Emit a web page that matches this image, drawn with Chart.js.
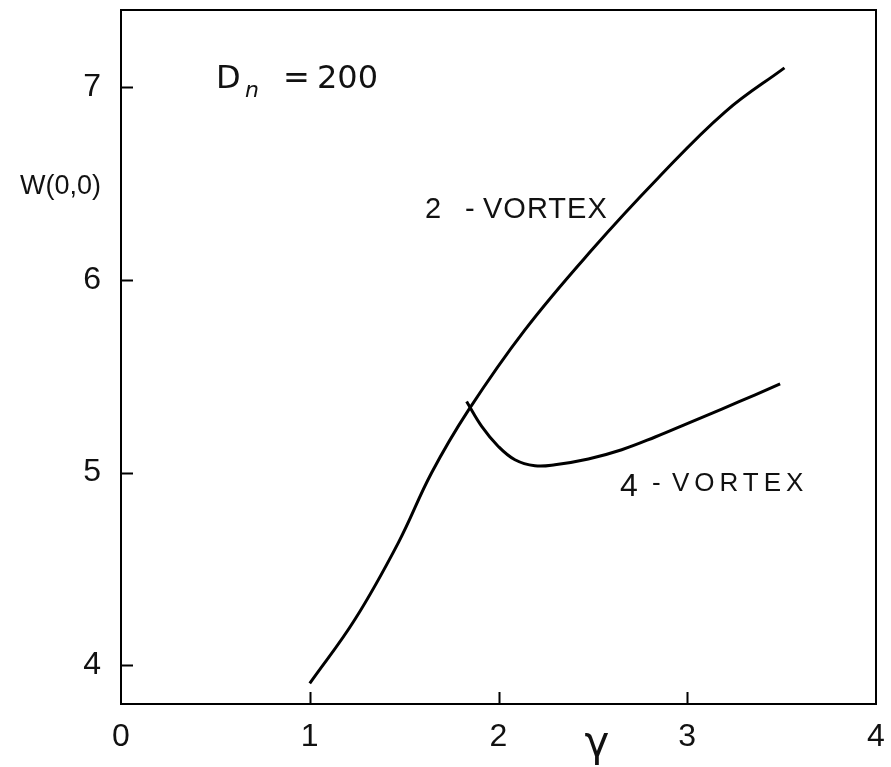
<!DOCTYPE html>
<html>
<head>
<meta charset="utf-8">
<script src="https://cdn.jsdelivr.net/npm/chart.js@4"></script>
<style>
html, body { margin: 0; padding: 0; background: #fff; }
</style>
</head>
<body>
<canvas id="chart" width="891" height="767"></canvas>
<script>
// Data (Dn = 200)
var twoVortexGamma = [1.00, 1.239, 1.469, 1.645, 1.840, 2.140, 2.494, 2.847, 3.201, 3.515];
var twoVortexW     = [3.907, 4.238, 4.636, 4.998, 5.323, 5.741, 6.155, 6.530, 6.872, 7.100];

var fourVortexGamma = [1.831, 1.911, 1.999, 2.087, 2.193, 2.299, 2.476, 2.653, 2.830, 3.006, 3.183, 3.360, 3.492];
var fourVortexW     = [5.369, 5.240, 5.136, 5.067, 5.036, 5.041, 5.071, 5.119, 5.185, 5.257, 5.330, 5.404, 5.461];

var xTicks = [0, 1, 2, 3, 4];
var yTicks = [4, 5, 6, 7];

function toPoints(xs, ys) {
    return xs.map(function(x, i) { return { x: x, y: ys[i] }; });
}

// Frame, inward tick marks and the hand-written labels
var annotations = {
    id: 'annotations',
    afterDraw: function(chart) {
        var ctx = chart.ctx;
        var a = chart.chartArea;
        var xs = chart.scales.x, ys = chart.scales.y;
        ctx.save();
        ctx.strokeStyle = '#000';
        ctx.lineWidth = 2;
        ctx.strokeRect(a.left, a.top, a.right - a.left, a.bottom - a.top);

        ctx.beginPath();
        yTicks.forEach(function(v) {
            var py = Math.round(ys.getPixelForValue(v)) + 0.5;
            ctx.moveTo(a.left, py);
            ctx.lineTo(a.left + 12, py);
        });
        xTicks.slice(1, -1).forEach(function(v) {
            var px = Math.round(xs.getPixelForValue(v)) + 0.5;
            ctx.moveTo(px, a.bottom);
            ctx.lineTo(px, a.bottom - 12);
        });
        ctx.stroke();

        ctx.fillStyle = '#111';
        ctx.textBaseline = 'alphabetic';

        // y axis title, horizontal
        ctx.font = '27px "Liberation Sans"';
        ctx.textAlign = 'right';
        ctx.fillText('W(0,0)', 101, 194);

        // x axis title
        ctx.textAlign = 'center';
        ctx.font = '42px "DejaVu Sans"';
        ctx.fillText('\u03B3', 597, 756);

        // D_n = 200
        ctx.textAlign = 'left';
        ctx.font = '32px "DejaVu Sans"';
        ctx.fillText('D', 216, 88);
        ctx.font = 'italic 22px "DejaVu Sans"';
        ctx.fillText('n', 245, 97);
        ctx.font = '32px "DejaVu Sans"';
        ctx.fillText('=', 283, 88);
        ctx.fillText('200', 317, 88);

        // curve labels
        ctx.font = '29px "Liberation Sans"';
        ctx.fillText('2', 425, 218);
        ctx.fillText('-', 465, 218);
        ctx.letterSpacing = '1px';
        ctx.fillText('VORTEX', 483, 218);
        ctx.letterSpacing = '0px';
        ctx.font = '32px "Liberation Sans"';
        ctx.fillText('4', 620, 496);
        ctx.font = '26px "Liberation Sans"';
        ctx.fillText('-', 652, 491);
        ctx.letterSpacing = '5px';
        ctx.fillText('VORTEX', 672, 491);
        ctx.restore();
    }
};

var ctx = document.getElementById('chart').getContext('2d');
new Chart(ctx, {
    type: 'scatter',
    data: {
        datasets: [{
            label: '2-VORTEX',
            data: toPoints(twoVortexGamma, twoVortexW),
            showLine: true,
            borderColor: '#000',
            borderWidth: 3,
            pointRadius: 0,
            tension: 0.4
        }, {
            label: '4-VORTEX',
            data: toPoints(fourVortexGamma, fourVortexW),
            showLine: true,
            borderColor: '#000',
            borderWidth: 3,
            pointRadius: 0,
            tension: 0.4
        }]
    },
    options: {
        responsive: false,
        animation: false,
        layout: { padding: { top: 10, right: 15, left: 0, bottom: 0 } },
        plugins: {
            legend: { display: false },
            tooltip: { enabled: false }
        },
        scales: {
            x: {
                type: 'linear',
                min: 0,
                max: 4,
                afterBuildTicks: function(scale) {
                    scale.ticks = xTicks.map(function(v) { return { value: v }; });
                },
                afterFit: function(scale) {
                    scale.height = 63;
                    scale.paddingLeft = 0;
                    scale.paddingRight = 0;
                },
                grid: { display: false, drawTicks: false },
                border: { display: false },
                ticks: {
                    padding: 14,
                    maxRotation: 0,
                    color: '#111',
                    font: { family: 'Liberation Sans', size: 32 }
                }
            },
            y: {
                type: 'linear',
                min: 3.8,
                max: 7.4,
                afterBuildTicks: function(scale) {
                    scale.ticks = yTicks.map(function(v) { return { value: v }; });
                },
                afterFit: function(scale) {
                    scale.width = 121;
                    scale.paddingTop = 0;
                    scale.paddingBottom = 0;
                },
                grid: { display: false, drawTicks: false },
                border: { display: false },
                ticks: {
                    padding: 20,
                    color: '#111',
                    font: { family: 'Liberation Sans', size: 32 }
                }
            }
        }
    },
    plugins: [annotations]
});
</script>
</body>
</html>
